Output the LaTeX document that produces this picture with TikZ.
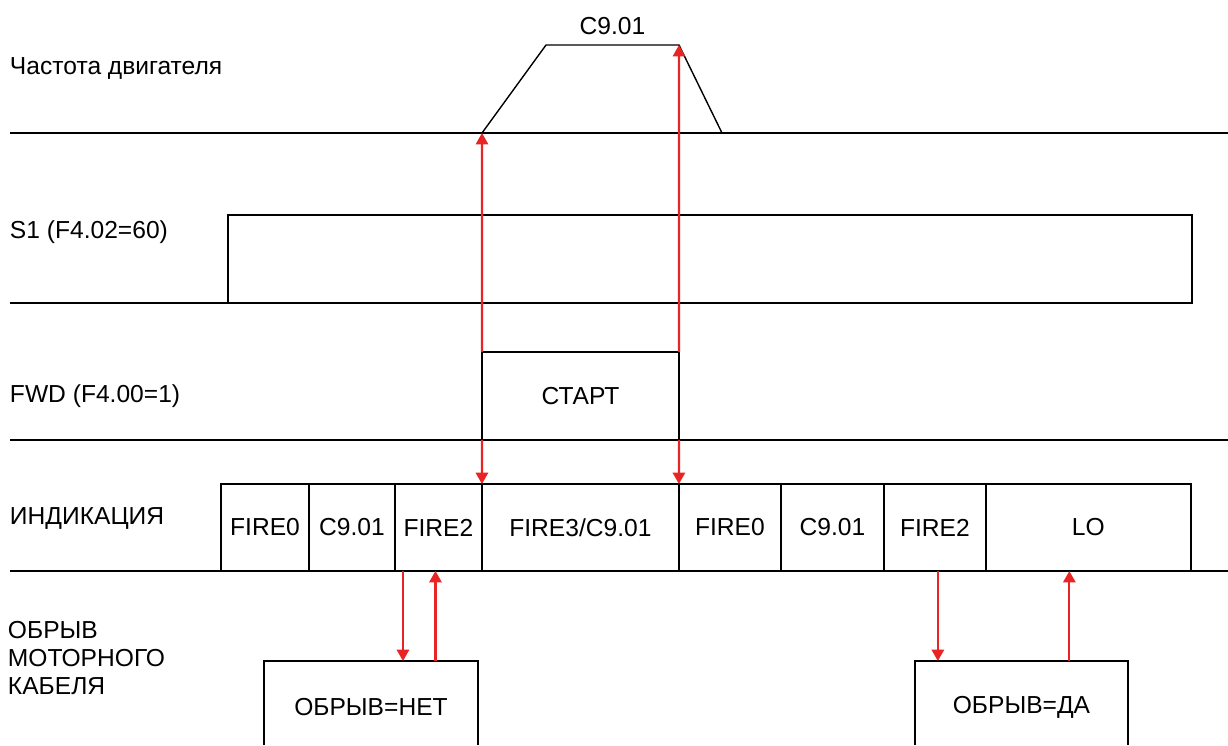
\documentclass[tikz,border=0pt]{standalone}
\usepackage{fontspec}
\setmainfont{Liberation Sans}
\usetikzlibrary{calc,positioning,arrows.meta}
\definecolor{sigred}{RGB}{232,36,36}

\begin{document}
\begin{tikzpicture}[x=0.02cm,y=-0.02cm,
    font=\fontsize{14}{16.2}\selectfont,
    every node/.style={inner sep=0pt,outer sep=0pt},
    thin line/.style={line width=0.8pt},
    sig/.style={draw=sigred,line width=1.25pt,-{Triangle[length=6.5pt,width=7pt]}},
    cell/.style={draw,thin line,minimum height=1.74cm},
    rowlabel/.style={anchor=west,align=left}]
    \useasboundingbox (0,0) rectangle (1228,745);
    \coordinate (bot) at (0,745);
    % row labels
    \node[rowlabel] (lf) at (10,68) {Частота двигателя};
    \node[rowlabel] (ls) at (10,232) {S1 (F4.02=60)};
    \node[rowlabel] (lw) at (10,396) {FWD (F4.00=1)};
    \node[rowlabel] (li) at (10,518) {ИНДИКАЦИЯ};
    \node[rowlabel] (lc) at (8,658) {ОБРЫВ\\МОТОРНОГО\\КАБЕЛЯ};
    % motor frequency
    \draw[thin line] (10,133) -- (1228,133);
    \draw[thin line] (482,133) coordinate (up) -- (546,45)
      -- node[above=6pt] (top) {C9.01} (679,45) coordinate (hi) -- (722,133);
    % S1
    \draw[thin line] (10,303) -- (228,303) rectangle (1192,215);
    % FWD
    \draw[thin line] (10,440) -- (1228,440);
    \node[draw,line width=1.5pt,minimum width=3.94cm,minimum height=1.76cm] (start) at (580.5,396) {СТАРТ};
    % indication
    \draw[thin line] (10,571) -- (1228,571);
    \node[cell,minimum width=1.76cm] (f1) at (265,527.5) {FIRE0};
    \node[cell,minimum width=1.72cm,right=0pt of f1] (f2) {C9.01};
    \node[cell,minimum width=1.74cm,right=0pt of f2] (f3) {FIRE2};
    \node[cell,minimum width=3.94cm,right=0pt of f3] (f4) {FIRE3/C9.01};
    \node[cell,minimum width=2.04cm,right=0pt of f4] (f5) {FIRE0};
    \node[cell,minimum width=2.06cm,right=0pt of f5] (f6) {C9.01};
    \node[cell,minimum width=2.04cm,right=0pt of f6] (f7) {FIRE2};
    \node[cell,minimum width=4.1cm,right=0pt of f7] (lo) {LO};
    % cable break
    \node[minimum width=4.28cm,minimum height=1.84cm] (net) at (371,707) {ОБРЫВ=НЕТ};
    \node[minimum width=4.26cm,minimum height=1.84cm] (da) at (1021.5,707) {ОБРЫВ=ДА};
    \draw[thin line] (net.north west |- bot) -- (net.north west) -- (net.north east) -- (net.north east |- bot);
    \draw[thin line] (da.north west |- bot) -- (da.north west) -- (da.north east) -- (da.north east |- bot);
    % signals
    \draw[sig] (start.north west) -- (up);
    \draw[sig] (start.north east) -- (hi);
    \draw[sig] (start.south west) -- (f4.north west);
    \draw[sig] (start.south east) -- (f4.north east);
    \draw[sig] ($(f3.south west)+(8,0)$) coordinate (d1) -- (d1 |- net.north);
    \draw[sig] ($(f3.south)+(-3,0)$) coordinate (u1) ++(0,90) -- (u1);
    \draw[sig] ($(f7.south)+(3,0)$) coordinate (d2) -- (d2 |- da.north);
    \draw[sig] ($(lo.south)+(-19,0)$) coordinate (u2) ++(0,90) -- (u2);
  \end{tikzpicture}
\end{document}
